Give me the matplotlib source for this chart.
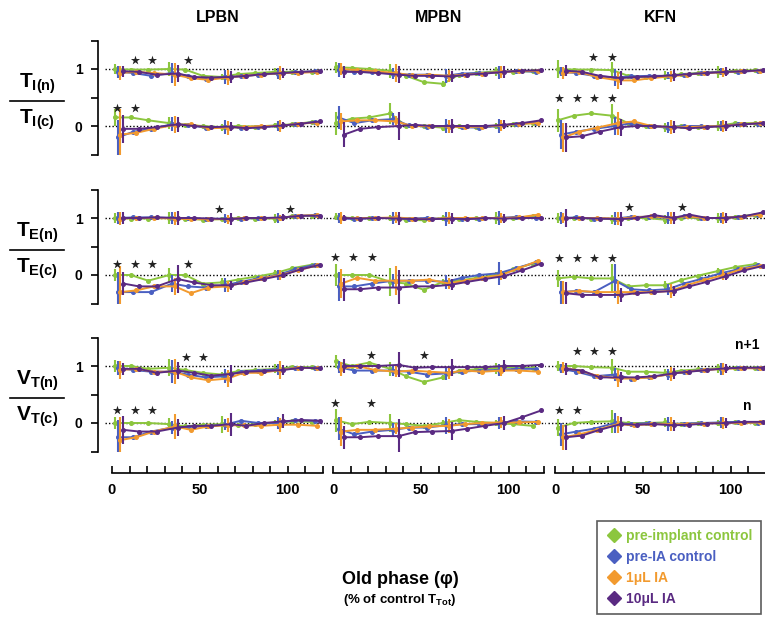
import numpy as np
import matplotlib.pyplot as plt
from matplotlib.lines import Line2D

plt.rcParams['font.family'] = ['Liberation Sans', 'DejaVu Sans']
plt.rcParams['font.weight'] = 'bold'
plt.rcParams['mathtext.fontset'] = 'custom'
plt.rcParams['mathtext.rm'] = 'Liberation Sans:bold'
plt.rcParams['mathtext.bf'] = 'Liberation Sans:bold'
plt.rcParams['mathtext.it'] = 'Liberation Sans:bold'

# old phase bins (% of control TTot), errorbars shown only at some of them
PHI = [4, 13, 23, 35, 44, 54, 65, 74, 84, 95, 105, 116]
ERR_IDX = [0, 3, 6, 9]

CONDITIONS = ["pre-implant control", "pre-IA control", "1\u03bcL IA", "10\u03bcL IA"]
COLORS = ["#8cc63e", "#4a5fc1", "#f29a2e", "#5a2a82"]
NUCLEI = ["LPBN", "MPBN", "KFN"]

# ---- LPBN ----  rows: green, blue, orange, purple
LPBN_TI_N1 = [[1.0, 0.99, 0.99, 1.0, 0.99, 0.88, 0.86, 0.91, 0.93, 0.95, 0.95, 0.95],
              [0.95, 0.93, 0.88, 0.93, 0.88, 0.82, 0.86, 0.87, 0.9, 0.92, 0.94, 0.96],
              [0.93, 0.95, 0.93, 0.9, 0.84, 0.81, 0.85, 0.88, 0.9, 0.93, 0.93, 0.95],
              [0.96, 0.95, 0.9, 0.92, 0.86, 0.85, 0.86, 0.88, 0.91, 0.93, 0.95, 0.96]]
LPBN_TI_N = [[0.15, 0.15, 0.1, 0.05, 0.02, 0.0, -0.02, 0.0, -0.01, 0.01, 0.03, 0.07],
             [-0.2, -0.1, -0.05, 0.03, 0.02, -0.03, -0.02, -0.03, -0.01, 0.0, 0.03, 0.07],
             [-0.15, -0.12, -0.05, 0.02, 0.03, -0.04, -0.03, -0.02, 0.0, 0.0, 0.04, 0.06],
             [-0.05, -0.05, -0.02, 0.03, 0.0, -0.02, -0.01, -0.04, -0.02, 0.01, 0.04, 0.08]]
LPBN_TI_ERR1 = [[0.08, 0.12, 0.05, 0.06], [0.1, 0.18, 0.13, 0.1], [0.12, 0.2, 0.13, 0.12], [0.1, 0.15, 0.1, 0.08]]
LPBN_TI_ERR = [[0.15, 0.1, 0.06, 0.05], [0.3, 0.12, 0.12, 0.08], [0.45, 0.15, 0.12, 0.1], [0.25, 0.13, 0.08, 0.06]]

LPBN_TE_N1 = [[1.0, 0.99, 0.99, 1.0, 0.99, 0.97, 0.98, 1.0, 0.99, 0.99, 1.03, 1.04],
              [1.0, 1.01, 1.01, 1.0, 1.0, 0.98, 0.99, 0.99, 1.0, 1.0, 1.03, 1.05],
              [0.99, 1.0, 1.0, 0.99, 0.98, 0.98, 0.98, 1.0, 1.0, 1.0, 1.04, 1.05],
              [1.0, 1.0, 1.01, 1.0, 1.0, 0.99, 0.98, 1.0, 1.0, 1.01, 1.04, 1.04]]
LPBN_TE_N = [[0.0, 0.0, -0.1, 0.0, 0.0, -0.15, -0.13, -0.08, -0.03, 0.03, 0.12, 0.18],
             [-0.3, -0.3, -0.3, -0.15, -0.2, -0.22, -0.18, -0.12, -0.06, 0.0, 0.1, 0.18],
             [-0.3, -0.27, -0.2, -0.2, -0.32, -0.22, -0.2, -0.13, -0.06, 0.0, 0.08, 0.17],
             [-0.15, -0.2, -0.2, -0.07, -0.13, -0.18, -0.18, -0.13, -0.07, 0.0, 0.1, 0.18]]
LPBN_TE_ERR1 = [[0.08, 0.1, 0.03, 0.08], [0.1, 0.1, 0.08, 0.08], [0.12, 0.12, 0.08, 0.06], [0.1, 0.12, 0.1, 0.06]]
LPBN_TE_ERR = [[0.1, 0.12, 0.08, 0.05], [0.35, 0.15, 0.12, 0.08], [0.45, 0.15, 0.1, 0.08], [0.2, 0.25, 0.08, 0.05]]

LPBN_VT_N1 = [[1.0, 1.0, 0.95, 0.97, 0.93, 0.88, 0.85, 0.91, 0.93, 0.95, 0.98, 0.98],
              [0.96, 0.93, 0.9, 0.9, 0.85, 0.8, 0.82, 0.9, 0.92, 0.94, 0.96, 0.97],
              [0.93, 0.95, 0.9, 0.9, 0.8, 0.75, 0.78, 0.88, 0.88, 0.93, 0.97, 0.96],
              [0.95, 0.95, 0.88, 0.92, 0.88, 0.83, 0.86, 0.9, 0.91, 0.93, 0.97, 0.96]]
LPBN_VT_N = [[0.0, 0.0, 0.0, -0.02, -0.06, -0.03, -0.02, -0.04, -0.02, 0.0, 0.03, 0.02],
             [-0.25, -0.25, -0.15, -0.08, -0.07, -0.06, -0.03, 0.04, 0.0, 0.0, 0.05, 0.04],
             [-0.3, -0.25, -0.15, -0.06, -0.12, -0.06, -0.04, -0.04, -0.05, -0.03, -0.03, -0.05],
             [-0.12, -0.15, -0.15, -0.08, -0.05, -0.05, -0.02, -0.05, 0.0, 0.03, 0.05, 0.04]]
LPBN_VT_ERR1 = [[0.1, 0.15, 0.05, 0.08], [0.12, 0.2, 0.12, 0.1], [0.15, 0.22, 0.15, 0.15], [0.1, 0.15, 0.15, 0.08]]
LPBN_VT_ERR = [[0.1, 0.1, 0.15, 0.06], [0.3, 0.12, 0.1, 0.1], [0.4, 0.22, 0.12, 0.12], [0.25, 0.15, 0.2, 0.12]]

# ---- MPBN ----
MPBN_TI_N1 = [[1.03, 1.02, 1.0, 0.97, 0.88, 0.77, 0.74, 0.9, 0.93, 0.96, 0.95, 0.96],
              [0.98, 0.95, 0.94, 0.92, 0.9, 0.9, 0.88, 0.92, 0.93, 0.94, 0.97, 0.95],
              [1.0, 0.98, 0.96, 0.93, 0.89, 0.9, 0.88, 0.9, 0.92, 0.95, 0.96, 0.97],
              [0.95, 0.95, 0.93, 0.9, 0.88, 0.88, 0.87, 0.9, 0.92, 0.95, 0.97, 0.98]]
MPBN_TI_N = [[0.05, 0.13, 0.15, 0.22, 0.0, 0.0, -0.03, 0.0, -0.01, 0.0, 0.03, 0.05],
             [0.15, 0.05, 0.1, 0.12, 0.01, -0.01, 0.0, -0.02, -0.03, 0.0, 0.04, 0.06],
             [0.08, 0.1, 0.1, 0.08, 0.0, 0.0, -0.01, -0.02, -0.01, 0.01, 0.04, 0.05],
             [-0.15, -0.05, -0.02, 0.0, 0.02, 0.0, 0.0, 0.0, 0.0, 0.02, 0.05, 0.1]]
MPBN_TI_ERR1 = [[0.1, 0.12, 0.05, 0.08], [0.12, 0.1, 0.12, 0.12], [0.1, 0.15, 0.1, 0.1], [0.1, 0.15, 0.1, 0.1]]
MPBN_TI_ERR = [[0.2, 0.18, 0.05, 0.06], [0.2, 0.1, 0.12, 0.12], [0.15, 0.1, 0.12, 0.1], [0.22, 0.25, 0.12, 0.08]]

MPBN_TE_N1 = [[1.02, 1.0, 1.0, 1.0, 0.97, 0.96, 1.0, 0.99, 1.0, 1.0, 1.0, 1.03],
              [1.0, 0.98, 1.0, 1.0, 0.99, 1.0, 0.98, 0.99, 0.99, 1.0, 1.02, 1.0],
              [1.0, 1.0, 1.0, 1.01, 0.99, 0.98, 1.0, 1.0, 1.0, 1.0, 1.01, 1.06],
              [1.0, 0.99, 1.0, 0.99, 0.98, 0.98, 0.99, 0.98, 1.0, 0.99, 1.0, 1.0]]
MPBN_TE_N = [[0.0, 0.0, 0.0, -0.12, -0.15, -0.26, -0.12, -0.1, -0.05, 0.0, 0.1, 0.2],
             [-0.2, -0.2, -0.15, -0.1, -0.1, -0.1, -0.12, -0.05, 0.0, 0.03, 0.12, 0.22],
             [-0.15, -0.05, -0.1, -0.1, -0.1, -0.08, -0.15, -0.1, -0.05, 0.0, 0.12, 0.25],
             [-0.25, -0.25, -0.22, -0.22, -0.2, -0.2, -0.17, -0.12, -0.07, -0.02, 0.08, 0.2]]
MPBN_TE_ERR1 = [[0.06, 0.06, 0.05, 0.1], [0.08, 0.1, 0.12, 0.12], [0.1, 0.1, 0.1, 0.08], [0.06, 0.12, 0.1, 0.08]]
MPBN_TE_ERR = [[0.2, 0.25, 0.05, 0.05], [0.25, 0.12, 0.12, 0.2], [0.25, 0.25, 0.1, 0.08], [0.2, 0.3, 0.1, 0.05]]

MPBN_VT_N1 = [[1.08, 1.0, 1.06, 0.95, 0.82, 0.72, 0.8, 0.92, 0.94, 0.96, 0.98, 0.96],
              [0.98, 0.92, 0.92, 0.92, 0.9, 0.85, 0.87, 0.9, 0.92, 0.93, 0.95, 0.95],
              [0.95, 1.0, 0.93, 0.9, 0.92, 0.9, 0.88, 0.92, 0.9, 0.92, 0.92, 0.9],
              [1.0, 1.0, 1.0, 1.02, 0.97, 0.98, 0.98, 0.98, 0.98, 1.0, 1.0, 1.02]]
MPBN_VT_N = [[0.05, -0.02, 0.02, 0.0, -0.02, -0.05, 0.0, 0.05, 0.02, 0.0, -0.02, -0.05],
             [-0.1, -0.2, -0.15, -0.12, -0.08, -0.08, -0.04, -0.02, -0.02, 0.0, 0.03, 0.02],
             [-0.15, -0.12, -0.12, -0.1, -0.08, -0.06, -0.05, -0.02, 0.0, 0.01, 0.01, 0.02],
             [-0.25, -0.25, -0.23, -0.23, -0.16, -0.15, -0.14, -0.1, -0.05, 0.0, 0.1, 0.22]]
MPBN_VT_ERR1 = [[0.12, 0.12, 0.05, 0.1], [0.1, 0.1, 0.12, 0.1], [0.12, 0.1, 0.1, 0.1], [0.12, 0.22, 0.15, 0.1]]
MPBN_VT_ERR = [[0.2, 0.15, 0.05, 0.05], [0.2, 0.12, 0.15, 0.1], [0.25, 0.1, 0.12, 0.1], [0.2, 0.3, 0.15, 0.12]]

# ---- KFN ----
KFN_TI_N1 = [[1.0, 0.99, 0.99, 0.98, 0.88, 0.86, 0.88, 0.91, 0.93, 0.95, 0.97, 0.98],
             [0.95, 0.93, 0.88, 0.85, 0.87, 0.88, 0.88, 0.9, 0.93, 0.95, 0.95, 0.97],
             [0.93, 0.95, 0.86, 0.8, 0.8, 0.84, 0.87, 0.9, 0.93, 0.94, 0.96, 0.97],
             [0.97, 0.95, 0.88, 0.84, 0.86, 0.87, 0.89, 0.91, 0.93, 0.95, 0.96, 0.98]]
KFN_TI_N = [[0.1, 0.18, 0.22, 0.18, 0.05, 0.0, -0.02, 0.0, -0.02, 0.0, 0.05, 0.05],
            [-0.15, -0.1, -0.05, 0.0, 0.05, 0.0, -0.03, 0.0, 0.0, 0.0, 0.03, 0.04],
            [-0.2, -0.1, -0.03, 0.05, 0.08, 0.0, -0.02, -0.02, -0.01, 0.0, 0.03, 0.05],
            [-0.2, -0.18, -0.1, -0.02, 0.0, 0.0, -0.02, -0.04, -0.02, 0.0, 0.03, 0.05]]
KFN_TI_ERR1 = [[0.15, 0.15, 0.08, 0.1], [0.08, 0.15, 0.06, 0.06], [0.1, 0.15, 0.1, 0.08], [0.1, 0.12, 0.1, 0.08]]
KFN_TI_ERR = [[0.2, 0.2, 0.08, 0.08], [0.25, 0.15, 0.1, 0.08], [0.25, 0.2, 0.12, 0.1], [0.25, 0.15, 0.1, 0.08]]

KFN_TE_N1 = [[1.0, 1.0, 0.99, 0.98, 1.0, 1.0, 0.97, 1.0, 1.0, 1.0, 1.02, 1.06],
             [1.0, 1.01, 0.99, 0.99, 1.02, 1.02, 1.0, 1.03, 1.0, 1.0, 1.02, 1.05],
             [1.0, 1.0, 1.0, 0.99, 1.01, 1.03, 1.0, 1.03, 1.0, 1.0, 1.02, 1.06],
             [1.0, 1.0, 0.99, 0.98, 1.0, 1.05, 1.0, 1.06, 1.0, 1.0, 1.03, 1.1]]
KFN_TE_N = [[-0.06, -0.03, -0.06, -0.06, -0.2, -0.18, -0.18, -0.09, -0.01, 0.07, 0.14, 0.19],
            [-0.3, -0.28, -0.3, -0.1, -0.25, -0.27, -0.25, -0.15, -0.07, 0.03, 0.1, 0.17],
            [-0.3, -0.28, -0.3, -0.3, -0.3, -0.3, -0.28, -0.18, -0.09, 0.0, 0.1, 0.16],
            [-0.32, -0.35, -0.35, -0.35, -0.32, -0.3, -0.28, -0.2, -0.12, -0.02, 0.08, 0.16]]
KFN_TE_ERR1 = [[0.08, 0.08, 0.08, 0.08], [0.1, 0.12, 0.1, 0.08], [0.08, 0.12, 0.1, 0.1], [0.15, 0.12, 0.1, 0.08]]
KFN_TE_ERR = [[0.15, 0.25, 0.08, 0.06], [0.2, 0.3, 0.1, 0.06], [0.2, 0.2, 0.12, 0.08], [0.2, 0.12, 0.08, 0.06]]

KFN_VT_N1 = [[1.0, 1.0, 0.98, 0.97, 0.9, 0.9, 0.88, 0.92, 0.94, 0.96, 0.97, 0.97],
             [0.95, 0.9, 0.82, 0.85, 0.78, 0.8, 0.85, 0.9, 0.93, 0.95, 0.97, 0.96],
             [0.97, 0.92, 0.83, 0.78, 0.78, 0.8, 0.86, 0.9, 0.93, 0.95, 0.96, 0.96],
             [0.95, 0.92, 0.8, 0.8, 0.8, 0.82, 0.87, 0.9, 0.93, 0.96, 0.97, 0.97]]
KFN_VT_N = [[-0.08, 0.0, 0.02, 0.03, 0.0, 0.0, 0.01, -0.02, 0.0, 0.0, 0.02, 0.0],
            [-0.2, -0.15, -0.1, 0.0, -0.02, 0.0, -0.02, -0.01, 0.0, 0.01, 0.02, 0.0],
            [-0.25, -0.2, -0.12, -0.02, -0.04, -0.02, -0.02, -0.02, -0.01, 0.0, 0.0, 0.01],
            [-0.25, -0.22, -0.12, -0.02, -0.03, -0.02, -0.04, -0.03, -0.01, 0.0, 0.02, 0.02]]
KFN_VT_ERR1 = [[0.08, 0.15, 0.06, 0.08], [0.08, 0.12, 0.1, 0.1], [0.1, 0.15, 0.12, 0.1], [0.1, 0.1, 0.1, 0.08]]
KFN_VT_ERR = [[0.15, 0.2, 0.08, 0.05], [0.2, 0.18, 0.12, 0.1], [0.22, 0.15, 0.12, 0.1], [0.22, 0.12, 0.1, 0.08]]

# significance stars: (phase, level) per panel
STARS = {
    (0, 0): [(13, 1.16), (23, 1.16), (43, 1.16), (3, 0.31), (13, 0.31)],
    (1, 0): [(61, 1.16), (101, 1.16), (3, 0.19), (13, 0.19), (23, 0.19), (43, 0.19)],
    (2, 0): [(42, 1.15), (52, 1.15), (3, 0.23), (13, 0.23), (23, 0.23)],
    (0, 1): [],
    (1, 1): [(1, 0.31), (11.5, 0.31), (22, 0.31)],
    (2, 1): [(21.5, 1.2), (52, 1.2), (1, 0.35), (21.5, 0.35)],
    (0, 2): [(21.7, 1.21), (32.4, 1.21), (2.3, 0.5), (12.5, 0.5), (22, 0.5), (32.4, 0.5)],
    (1, 2): [(42, 1.19), (72, 1.19), (2.3, 0.29), (12.5, 0.29), (22, 0.29), (32.4, 0.29)],
    (2, 2): [(12.5, 1.26), (22, 1.26), (32.4, 1.26), (2.3, 0.22), (12.5, 0.22)],
}

PANELS = [
    [(LPBN_TI_N1, LPBN_TI_N, LPBN_TI_ERR1, LPBN_TI_ERR),
     (MPBN_TI_N1, MPBN_TI_N, MPBN_TI_ERR1, MPBN_TI_ERR),
     (KFN_TI_N1, KFN_TI_N, KFN_TI_ERR1, KFN_TI_ERR)],
    [(LPBN_TE_N1, LPBN_TE_N, LPBN_TE_ERR1, LPBN_TE_ERR),
     (MPBN_TE_N1, MPBN_TE_N, MPBN_TE_ERR1, MPBN_TE_ERR),
     (KFN_TE_N1, KFN_TE_N, KFN_TE_ERR1, KFN_TE_ERR)],
    [(LPBN_VT_N1, LPBN_VT_N, LPBN_VT_ERR1, LPBN_VT_ERR),
     (MPBN_VT_N1, MPBN_VT_N, MPBN_VT_ERR1, MPBN_VT_ERR),
     (KFN_VT_N1, KFN_VT_N, KFN_VT_ERR1, KFN_VT_ERR)],
]
ROW_LABELS = [("T", "I"), ("T", "E"), ("V", "T")]

W, H = 765, 623
fig = plt.figure(figsize=(W / 100, H / 100), dpi=100)


def add_px_axes(left, top, right, bottom):
    return fig.add_axes([left / W, 1 - bottom / H, (right - left) / W, (bottom - top) / H])


X0 = [112, 333, 555]       # pixel of phase 0 for each column
PPU = 211 / 120            # pixels per phase unit
Y_ONE = [69, 218, 366]     # pixel of ratio 1 for each row
YPPU = 57
DODGE = [-2.4, -0.8, 0.8, 2.4]
phi = np.array(PHI, dtype=float)

for r in range(3):
    for c in range(3):
        n1, n0, e1, e0 = PANELS[r][c]
        ax = add_px_axes(X0[c] - 8 * PPU, Y_ONE[r] - 0.5 * YPPU, X0[c] + 121 * PPU, Y_ONE[r] + 1.5 * YPPU)
        ax.patch.set_alpha(0)
        ax.set_xlim(-8, 121)
        ax.set_ylim(-0.5, 1.5)
        ax.hlines([1, 0], -4, 121, colors="k", linestyles=(0, (1, 1.5)), lw=1, zorder=1)
        for k in range(4):
            x = phi + DODGE[k]
            for vals, err in ((n1[k], e1[k]), (n0[k], e0[k])):
                v = np.array(vals)
                ax.plot(x, v, color=COLORS[k], lw=1.4, marker="o", ms=2.6, zorder=3 + k)
                ax.errorbar(x[ERR_IDX], v[ERR_IDX], yerr=err, fmt="none", ecolor=COLORS[k],
                            elinewidth=1.5, capsize=0, zorder=3 + k)
        stars = STARS[(r, c)]
        if stars:
            sx, sy = zip(*stars)
            ax.scatter(sx, sy, marker="*", s=48, color="#222222", zorder=10, linewidths=0)
        for side in ["top", "right", "bottom"]:
            ax.spines[side].set_visible(False)
        ax.set_xticks([])
        if c == 0:
            ax.spines["left"].set_bounds(-0.5, 1.5)
            ax.spines["left"].set_linewidth(1.2)
            ax.set_yticks([-0.5, 0, 0.5, 1, 1.5])
            ax.set_yticklabels(["", "0", "", "1", ""], fontsize=10, fontweight="bold")
            ax.tick_params(axis="y", direction="out", length=5, width=1.2, pad=6)
        else:
            ax.spines["left"].set_visible(False)
            ax.set_yticks([])

# bottom phase axes
for c in range(3):
    xa = add_px_axes(X0[c] - 8 * PPU, 468, X0[c] + 121 * PPU, 473)
    xa.patch.set_alpha(0)
    xa.set_xlim(-8, 121)
    for side in ["top", "right", "left"]:
        xa.spines[side].set_visible(False)
    xa.spines["bottom"].set_bounds(0, 120)
    xa.spines["bottom"].set_linewidth(1.2)
    xa.set_yticks([])
    xa.set_xticks(range(0, 121, 10))
    xa.set_xticklabels(["0", "", "", "", "", "50", "", "", "", "", "100", "", ""],
                       fontsize=10.5, fontweight="bold")
    xa.tick_params(axis="x", direction="in", length=5, width=1.2, pad=7)
    fig.text((X0[c] + 60 * PPU) / W, 1 - 18 / H, NUCLEI[c], ha="center", va="center",
             fontsize=11.5, fontweight="bold")

# row labels as fractions
for r in range(3):
    letter, sub = ROW_LABELS[r]
    yl = 101 + (Y_ONE[r] - Y_ONE[0])
    fig.text(37 / W, 1 - (yl - 17) / H, r"$\mathbf{%s}_{\mathbf{%s(n)}}$" % (letter, sub),
             ha="center", va="center", fontsize=15)
    fig.text(37 / W, 1 - (yl + 19) / H, r"$\mathbf{%s}_{\mathbf{%s(c)}}$" % (letter, sub),
             ha="center", va="center", fontsize=15)
    fig.add_artist(Line2D([10 / W, 64 / W], [1 - yl / H] * 2, color="k", lw=1.2))

fig.text(760 / W, 1 - 345 / H, "n+1", ha="right", va="center", fontsize=10, fontweight="bold")
fig.text(752 / W, 1 - 406 / H, "n", ha="right", va="center", fontsize=10, fontweight="bold")

fig.text(400 / W, 1 - 580 / H, "Old phase (\u03c6)", ha="center", va="center", fontsize=13, fontweight="bold")
fig.text(400 / W, 1 - 600 / H, r"(% of control T$_{\mathbf{Tot}}$)", ha="center", va="center",
         fontsize=9.5, fontweight="bold")

handles = [Line2D([], [], marker="D", ls="none", color=col, ms=7) for col in COLORS]
leg = fig.legend(handles, CONDITIONS, loc="upper left", bbox_to_anchor=(590 / W, 1 - 514 / H),
                 frameon=True, fancybox=False, edgecolor="#333333", borderpad=0.6, labelspacing=0.5,
                 handletextpad=0.3, handlelength=1.2, prop={"size": 10, "weight": "bold"})
leg.get_frame().set_linewidth(1.2)
for txt, col in zip(leg.get_texts(), COLORS):
    txt.set_color(col)

fig.savefig("out.png", dpi=100)
